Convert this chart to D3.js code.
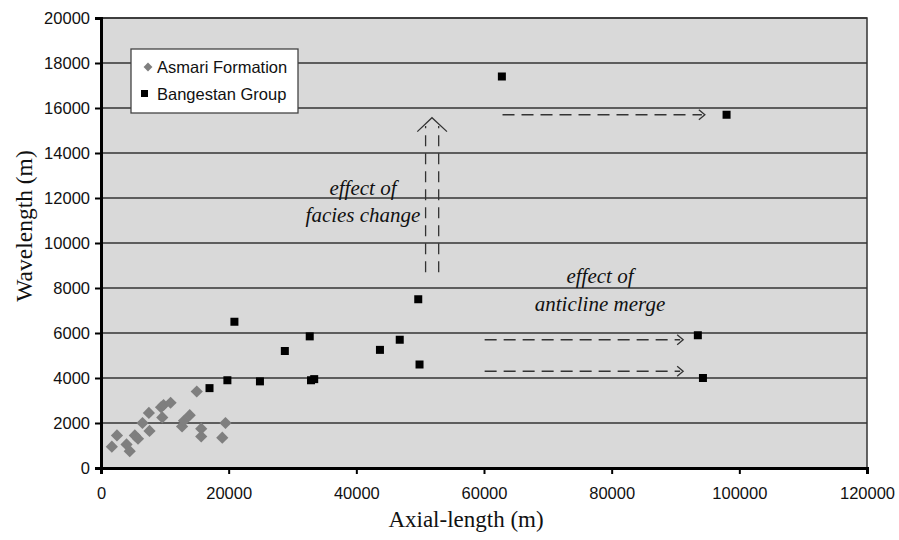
<!DOCTYPE html>
<html>
<head>
<meta charset="utf-8">
<script src="https://cdn.jsdelivr.net/npm/d3@7"></script>
<style>
body{margin:0;background:#fff;}
svg text{font-family:"Liberation Sans",Arial,sans-serif;}
.serif{font-family:"Liberation Serif","Times New Roman",serif !important;}
</style>
</head>
<body>
<svg id="chart" width="899" height="540"></svg>
<script>
// Asmari Formation: [axial length, wavelength]
var asmari_x=[1700,2500,4000,4500,5300,5800,6500,7500,7600,9400,9800,9600,10900,12700,13000,13900,15000,15700,15700,19000,19500];
var asmari_y=[950,1450,1050,750,1450,1300,2000,2450,1650,2700,2800,2250,2900,1850,2100,2350,3400,1750,1400,1350,2000];
// Bangestan Group
var bang_x=[17000,19800,20900,24900,28800,32700,32900,33400,43700,46800,49700,49900,62800,98000,93500,94300];
var bang_y=[3550,3900,6500,3850,5200,5850,3900,3950,5250,5700,7500,4600,17400,15700,5900,4000];
var x_ticks=[0,20000,40000,60000,80000,100000,120000];
var y_ticks=[0,2000,4000,6000,8000,10000,12000,14000,16000,18000,20000];
// annotation arrows in data units [x1,y1,x2,y2]
var merge_arrows=[[62900,15700,94600,15700],[60100,5700,91200,5700],[60100,4300,91200,4300]];
var facies_lines=[[50850,8700,50850,15200],[52900,8700,52900,15200]];
var facies_head=[[49550,14950],[51850,15570],[54200,14950]];

var svg=d3.select("#chart");
var m_left=101,m_right=867,m_top=18,m_bottom=468;
var x=d3.scaleLinear().domain([0,120000]).range([m_left,m_right]);
var y=d3.scaleLinear().domain([0,20000]).range([m_bottom,m_top]);

// plot background
svg.append("rect")
   .attr("x",m_left).attr("y",m_top)
   .attr("width",m_right-m_left).attr("height",m_bottom-m_top)
   .attr("fill","#d9d9d9")
   .attr("stroke","#333").attr("stroke-width",1.5);

// grid lines
svg.append("g").selectAll("line")
   .data(y_ticks.filter(function(d){return d>0;}))
   .enter().append("line")
   .attr("x1",m_left).attr("x2",m_right)
   .attr("y1",function(d){return y(d);})
   .attr("y2",function(d){return y(d);})
   .attr("stroke","#333").attr("stroke-width",1.5);

// axes
var yAxis=d3.axisLeft(y).tickValues(y_ticks).tickSize(6).tickPadding(6).tickFormat(d3.format("d"));
var xAxis=d3.axisBottom(x).tickValues(x_ticks).tickSize(6).tickPadding(13).tickFormat(d3.format("d"));
var gy=svg.append("g").attr("transform","translate("+m_left+",0)").call(yAxis);
var gx=svg.append("g").attr("transform","translate(0,"+m_bottom+")").call(xAxis);
[gy,gx].forEach(function(g){
	g.select(".domain").attr("stroke","#000").attr("stroke-width",3);
	g.selectAll(".tick line").attr("stroke","#000").attr("stroke-width",2);
	g.selectAll(".tick text").attr("fill","#111").style("font-size","16.5px");
});
gy.selectAll(".tick text").attr("x",-11);

// axis titles
svg.append("text").attr("class","serif")
   .attr("x",466).attr("y",527)
   .attr("text-anchor","middle")
   .style("font-size","23px").attr("fill","#111")
   .text("Axial-length (m)");
svg.append("text").attr("class","serif")
   .attr("transform","translate(32,226) rotate(-90)")
   .attr("text-anchor","middle")
   .style("font-size","23.5px").attr("fill","#111")
   .text("Wavelength (m)");

// arrows
var ann=svg.append("g").attr("stroke","#333").attr("stroke-width",1.3).attr("fill","none");
merge_arrows.forEach(function(a){
	ann.append("line")
	   .attr("x1",x(a[0])).attr("y1",y(a[1]))
	   .attr("x2",x(a[2])-3).attr("y2",y(a[3]))
	   .attr("stroke-dasharray","12,7");
	ann.append("path")
	   .attr("d","M"+(x(a[2])-6)+","+(y(a[3])-5)+"L"+x(a[2])+","+y(a[3])+"L"+(x(a[2])-6)+","+(y(a[3])+5));
});
facies_lines.forEach(function(a){
	ann.append("line")
	   .attr("x1",x(a[0])).attr("y1",y(a[1]))
	   .attr("x2",x(a[2])).attr("y2",y(a[3]))
	   .attr("stroke-dasharray","11,7");
});
ann.append("path")
   .attr("d",d3.line().x(function(d){return x(d[0]);}).y(function(d){return y(d[1]);})(facies_head));

// annotation text
var notes=[["effect of",363,195],["facies change",363,222],["effect of",600,283],["anticline merge",600,311]];
svg.append("g").selectAll("text")
   .data(notes).enter().append("text")
   .attr("class","serif")
   .attr("x",function(d){return d[1];})
   .attr("y",function(d){return d[2];})
   .attr("text-anchor","middle")
   .style("font-size","21px").style("font-style","italic")
   .attr("fill","#111")
   .text(function(d){return d[0];});

// points
var diamond=d3.symbol().type(d3.symbolDiamond2).size(95);
svg.append("g").selectAll("path")
   .data(asmari_x).enter().append("path")
   .attr("d",diamond)
   .attr("transform",function(d,i){return "translate("+x(d)+","+y(asmari_y[i])+")";})
   .attr("fill","#7f7f7f");
svg.append("g").selectAll("rect")
   .data(bang_x).enter().append("rect")
   .attr("x",function(d){return x(d)-4;})
   .attr("y",function(d,i){return y(bang_y[i])-4;})
   .attr("width",8).attr("height",8)
   .attr("fill","#000");

// legend
var lg=svg.append("g").attr("transform","translate(131,49)");
lg.append("rect").attr("width",167).attr("height",64)
  .attr("fill","#fff").attr("stroke","#444").attr("stroke-width",1.3);
lg.append("path").attr("d",d3.symbol().type(d3.symbolDiamond2).size(50))
  .attr("transform","translate(17,18)").attr("fill","#7f7f7f");
lg.append("rect").attr("x",10).attr("y",41).attr("width",7).attr("height",7).attr("fill","#000");
lg.append("text").attr("x",26).attr("y",23.5).style("font-size","16.5px").attr("fill","#111").text("Asmari Formation");
lg.append("text").attr("x",26).attr("y",50.5).style("font-size","16.5px").attr("fill","#111").text("Bangestan Group");
</script>
</body>
</html>
